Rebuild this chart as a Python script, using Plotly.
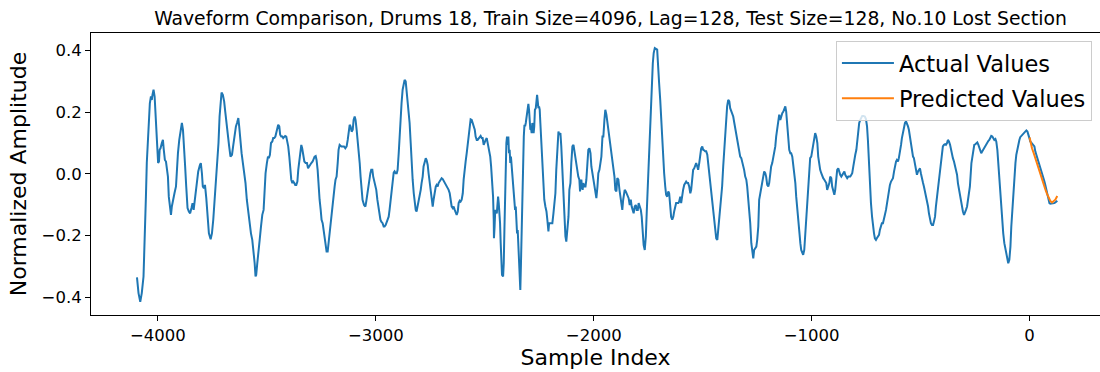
import plotly.graph_objects as go

actual_x = [
    -4096, -4089, -4081, -4074, -4066, -4061, -4055, -4051, -4046, -4043, -4037, -4032, -4028, -4025, -4020,
    -4015, -4012, -4008, -4003, -3999, -3995, -3992, -3988, -3982, -3977, -3973, -3968, -3963, -3959, -3954,
    -3950, -3945, -3940, -3936, -3930, -3924, -3917, -3913, -3908, -3902, -3896, -3890, -3885, -3879, -3875,
    -3870, -3864, -3858, -3852, -3846, -3841, -3836, -3832, -3827, -3821, -3815, -3807, -3803, -3798, -3794,
    -3789, -3784, -3778, -3772, -3766, -3758, -3752, -3746, -3740, -3734, -3728, -3722, -3717, -3712, -3708,
    -3702, -3696, -3691, -3686, -3682, -3677, -3673, -3667, -3660, -3654, -3648,
    -3642, -3637, -3631, -3627, -3622, -3616, -3610, -3604, -3598, -3592, -3585, -3579, -3573, -3567, -3561,
    -3556, -3552, -3549, -3544, -3538, -3533, -3527, -3521, -3515, -3510, -3506, -3500, -3495, -3491, -3486,
    -3481, -3475, -3471, -3466, -3461, -3457, -3452, -3448, -3443, -3439, -3434, -3429, -3425, -3420, -3416,
    -3411, -3406, -3402, -3397, -3393, -3388, -3383, -3379, -3374, -3370, -3365, -3360, -3356, -3351, -3347,
    -3342, -3338, -3333, -3328, -3322, -3316, -3311, -3307, -3301, -3296, -3290, -3286, -3281, -3276, -3272,
    -3267, -3263, -3258, -3253, -3249, -3244, -3240, -3235, -3230, -3226, -3221, -3217, -3212, -3207, -3203,
    -3198, -3194, -3189, -3185, -3180, -3175, -3171, -3166,
    -3158, -3152, -3146, -3140, -3134, -3129, -3125, -3120, -3116, -3111, -3106, -3102, -3097, -3093, -3088,
    -3083, -3079, -3074, -3070, -3065, -3061, -3054, -3048, -3044, -3039, -3035, -3030, -3025, -3021, -3016,
    -3012, -3007, -3002, -2998, -2993, -2989, -2984, -2979, -2975, -2969, -2964, -2960, -2955, -2950, -2946,
    -2941, -2937, -2932, -2927, -2923, -2918, -2914, -2909, -2904, -2900, -2895, -2891, -2886, -2882, -2877,
    -2872, -2868, -2863, -2859, -2854, -2849, -2845, -2840, -2836, -2831, -2826, -2822, -2817, -2813, -2808,
    -2803, -2799, -2794, -2790, -2785, -2781, -2776, -2771, -2767, -2762, -2758, -2753, -2748, -2744, -2739,
    -2735, -2730, -2725, -2721, -2716, -2712, -2707, -2703, -2698, -2693, -2689, -2684,
    -2681, -2673, -2666, -2661, -2657, -2652, -2647, -2643, -2638, -2634, -2629, -2624, -2620, -2615, -2611,
    -2606, -2601, -2597, -2592, -2588, -2583, -2579, -2574, -2569, -2565, -2560, -2556, -2551, -2546, -2542,
    -2537, -2533, -2528, -2523, -2519, -2514, -2510, -2505, -2501, -2496, -2491, -2487, -2482, -2478, -2475,
    -2471, -2468, -2465, -2462, -2459, -2458, -2455, -2452, -2449, -2445, -2442, -2439, -2436, -2433, -2430,
    -2427, -2424, -2421, -2416, -2413, -2410, -2407, -2404, -2401, -2398, -2395, -2392, -2389, -2386, -2383,
    -2380, -2377, -2374, -2370, -2367, -2364, -2361, -2358, -2355, -2352, -2349, -2346, -2343, -2340, -2337,
    -2334, -2331, -2328, -2325, -2321, -2318, -2315, -2312, -2309, -2306, -2303, -2300, -2297, -2294, -2291,
    -2288, -2285, -2282, -2279, -2276, -2273, -2270, -2266, -2263, -2260, -2257, -2254, -2251, -2248, -2245,
    -2240, -2236, -2231, -2227, -2222, -2217, -2213, -2208, -2205, -2202,
    -2190, -2185, -2181, -2176, -2172, -2167, -2162, -2158, -2153, -2149, -2144, -2139, -2135, -2130, -2126,
    -2121, -2116, -2112, -2107, -2103, -2098, -2093, -2089, -2084, -2080, -2075, -2071, -2066, -2063, -2060,
    -2057, -2054, -2051, -2048, -2043, -2038, -2034, -2029, -2025, -2020, -2015, -2011, -2006, -2002, -1997,
    -1993, -1988, -1983, -1979, -1974, -1970, -1965, -1960, -1956, -1951, -1947, -1942, -1937, -1933, -1928,
    -1924, -1919, -1914, -1910, -1905, -1901, -1896, -1892, -1887, -1882, -1878, -1873, -1869, -1865, -1862,
    -1858, -1853, -1849, -1844, -1840, -1835, -1830, -1826, -1821, -1817, -1812, -1807, -1803, -1798, -1794,
    -1789, -1784, -1780, -1775, -1771, -1766, -1761, -1757, -1752, -1748, -1743, -1739, -1734, -1729, -1725,
    -1720,
    -1709, -1704, -1700, -1695, -1691, -1686, -1681, -1677, -1672, -1668, -1663, -1658, -1654, -1649, -1645,
    -1640, -1635, -1631, -1626, -1622, -1617, -1612, -1608, -1603, -1599, -1594, -1590, -1585, -1580, -1576,
    -1571, -1567, -1562, -1557, -1553, -1548, -1544, -1539, -1534, -1530, -1525, -1521, -1516, -1511, -1507,
    -1502, -1498, -1493, -1489, -1484, -1479, -1475, -1470, -1466, -1461, -1456, -1452, -1447, -1443, -1438,
    -1433, -1429, -1424, -1420, -1415, -1411, -1406, -1401, -1397, -1392, -1388, -1383, -1378, -1374, -1369,
    -1365, -1360, -1355, -1351, -1346, -1342, -1337, -1333, -1328, -1323, -1319, -1314, -1310, -1305, -1300,
    -1296, -1291, -1287, -1282, -1277, -1273, -1268, -1264, -1259, -1254, -1250, -1245, -1241, -1236,
    -1231, -1227, -1222, -1218, -1213, -1209, -1204, -1199, -1195, -1190, -1186, -1181, -1176, -1172, -1167,
    -1163, -1158, -1153, -1149, -1144, -1140, -1135, -1130, -1126, -1121, -1117, -1112, -1108, -1103, -1098,
    -1094, -1089, -1085, -1080, -1075, -1071, -1066, -1062, -1057, -1052, -1048, -1043, -1039, -1034, -1030,
    -1025, -1020, -1016, -1011, -1007, -1002, -997, -993, -988, -984, -979, -974, -970, -965, -961,
    -956, -951, -947, -942, -938, -933, -929, -924, -919, -915, -910, -906, -901, -896, -892,
    -887, -883, -878, -873, -869, -864, -860, -855, -850, -846, -841, -837, -832, -828, -823,
    -818, -814, -809, -805, -800, -795, -791, -786, -782, -777, -772, -768, -763, -756, -751,
    -746, -742, -737, -733, -728, -723, -719, -714, -710, -705, -701, -696, -691, -687, -682,
    -678, -673, -668, -664, -659, -655, -650, -645, -641, -636, -632, -627, -622, -618, -613,
    -609, -604, -600, -595, -590, -586, -581, -577, -572, -567, -563, -558, -554, -549, -544,
    -540, -535, -531, -526, -522, -517, -512, -508, -503, -499, -494, -489, -485, -480, -476,
    -471, -466, -462, -457, -453, -448, -443, -439, -434, -430, -425, -421, -416, -411, -407,
    -402, -398, -393, -388, -384, -379, -375, -370, -365, -361, -356, -352, -347, -342, -338,
    -333, -329, -324, -320, -315, -310, -306, -301, -297, -292, -287, -283, -278, -274,
    -267, -263, -258, -254, -249, -245, -240, -235, -231, -226, -222, -217, -212, -208, -203,
    -199, -194, -189, -185, -180, -176, -171, -166, -162, -157, -153, -148, -144, -139, -134,
    -130, -125, -121, -116, -111, -107, -102, -98, -93, -88, -84, -79, -75, -70, -65,
    -61, -56, -52, -47, -43, -38, -33, -29, -24, -20, -15, -10, -6, -1, 3,
    8, 12, 17, 22, 26, 31, 35, 40, 45, 49, 54, 58, 63, 68, 72,
    77, 81, 86, 91, 95, 100, 104, 109, 113, 118, 123, 127,
]

actual_y = [
    -0.336, -0.387, -0.415, -0.387, -0.333, -0.236, -0.074, 0.035, 0.110, 0.186, 0.229, 0.251, 0.240, 0.256, 0.273,
    0.251, 0.197, 0.143, 0.089, 0.035, 0.040, 0.078, 0.083, 0.100, 0.110, 0.078, 0.045, 0.040, 0.024, -0.009,
    -0.074, -0.117, -0.133, -0.106, -0.079, -0.063, -0.041, 0.013, 0.067, 0.110, 0.148, 0.165, 0.143, 0.089, 0.024,
    -0.041, -0.111, -0.122, -0.128, -0.111, -0.095, -0.117, -0.095, -0.063, -0.019, 0.008, 0.029, 0.035, 0.002, -0.041,
    -0.047, -0.036, -0.079, -0.149, -0.193, -0.212, -0.193, -0.149, -0.084, -0.052, 0.013, 0.100, 0.186, 0.240, 0.264,
    0.256, 0.235, 0.202, 0.165, 0.154, 0.121, 0.089, 0.056, 0.062, 0.094, 0.132,
    0.154, 0.165, 0.181, 0.154, 0.100, 0.067, 0.035, 0.008, -0.030, -0.084, -0.128, -0.160, -0.193, -0.214, -0.247,
    -0.290, -0.333, -0.328, -0.290, -0.236, -0.214, -0.171, -0.133, -0.117, -0.052, 0.002, 0.035, 0.056, 0.051, 0.062,
    0.100, 0.105, 0.116, 0.116, 0.121, 0.132, 0.143, 0.159, 0.154, 0.127, 0.121, 0.121, 0.116, 0.121, 0.123,
    0.121, 0.105, 0.089, 0.056, 0.013, -0.019, -0.030, -0.025, -0.030, -0.036, -0.036, -0.025, 0.013, 0.051, 0.078,
    0.094, 0.083, 0.062, 0.040, 0.035, 0.035, 0.018, 0.024, 0.029, 0.035, 0.040, 0.051, 0.056, 0.058, 0.045,
    0.013, -0.052, -0.084, -0.117, -0.149, -0.160, -0.182, -0.203, -0.236, -0.252, -0.252, -0.225, -0.182, -0.149, -0.117,
    -0.084, -0.063, -0.041, -0.019, -0.009, 0.035, 0.078, 0.094,
    0.089, 0.089, 0.089, 0.083, 0.089, 0.110, 0.143, 0.159, 0.154, 0.137, 0.143, 0.175, 0.186, 0.175, 0.143,
    0.110, 0.078, 0.035, -0.009, -0.052, -0.084, -0.101, -0.106, -0.090, -0.063, -0.041, -0.019, 0.002, 0.013, 0.013,
    -0.009, -0.025, -0.030, -0.052, -0.084, -0.106, -0.139, -0.149, -0.155, -0.160, -0.171, -0.171, -0.166, -0.155, -0.149,
    -0.139, -0.117, -0.079, -0.052, -0.009, 0.004, 0.008, 0.002, 0.002, 0.013, 0.067, 0.132, 0.186, 0.229, 0.273,
    0.300, 0.305, 0.300, 0.273, 0.229, 0.197, 0.165, 0.100, 0.035, -0.019, -0.063, -0.095, -0.117, -0.122, -0.106,
    -0.084, -0.074, -0.052, -0.030, -0.009, 0.024, 0.040, 0.051, 0.045, 0.029, 0.002, -0.030, -0.063, -0.095, -0.106,
    -0.084, -0.052, -0.041, -0.036, -0.041, -0.030, -0.025, -0.019, -0.014, -0.017, -0.022, -0.030,
    -0.030, -0.041, -0.052, -0.063, -0.084, -0.106, -0.111, -0.106, -0.117, -0.128, -0.133, -0.122, -0.095, -0.087, -0.090,
    -0.084, -0.063, -0.019, 0.024, 0.040, 0.067, 0.094, 0.121, 0.148, 0.177, 0.175, 0.165, 0.159, 0.143, 0.121,
    0.110, 0.110, 0.116, 0.121, 0.123, 0.116, 0.116, 0.094, 0.105, 0.110, 0.116, 0.100, 0.094, 0.078, 0.056,
    0.024, -0.009, -0.063, -0.074, -0.149, -0.209, -0.171, -0.117, -0.122, -0.128, -0.084, -0.074, -0.095, -0.117, -0.160,
    -0.225, -0.290, -0.328, -0.333, -0.290, -0.182, -0.052, 0.035, 0.100, 0.121, 0.094, 0.121, 0.067, 0.078, 0.035,
    0.056, 0.024, -0.009, -0.041, -0.074, -0.084, -0.117, -0.106, -0.149, -0.193, -0.182, -0.225, -0.290, -0.355, -0.377,
    -0.290, -0.182, -0.063, 0.035, 0.121, 0.159, 0.154, 0.165, 0.186, 0.208, 0.224, 0.227, 0.208, 0.186, 0.143,
    0.148, 0.132, 0.165, 0.143, 0.132, 0.154, 0.208, 0.213, 0.229, 0.256, 0.235, 0.213, 0.219, 0.208, 0.165,
    0.089, 0.013, -0.052, -0.084, -0.106, -0.122, -0.149, -0.187, -0.160, -0.160,
    -0.160, -0.128, -0.095, -0.063, 0.013, 0.100, 0.137, 0.127, 0.132, 0.089, 0.013, -0.084, -0.149, -0.203, -0.220,
    -0.182, -0.139, -0.052, -0.030, 0.035, 0.089, 0.094, 0.073, 0.045, 0.029, 0.013, -0.009, -0.019, -0.057, -0.030,
    -0.019, -0.041, -0.052, -0.030, -0.041, -0.041, -0.019, 0.035, 0.078, 0.083, 0.067, 0.024, 0.002, -0.014, -0.041,
    -0.063, -0.079, -0.041, 0.002, 0.013, 0.035, 0.056, 0.121, 0.121, 0.175, 0.208, 0.192, 0.165, 0.143, 0.110,
    0.089, 0.056, 0.040, 0.024, -0.009, -0.052, -0.057, -0.014, -0.019, -0.052, -0.074, -0.095, -0.117, -0.084, -0.063,
    -0.052, -0.057, -0.063, -0.074, -0.079, -0.101, -0.084, -0.106, -0.117, -0.128, -0.106, -0.101, -0.117, -0.117, -0.095,
    -0.106, -0.117, -0.139, -0.203, -0.231, -0.247, -0.203, -0.128, -0.041, 0.056, 0.132, 0.219, 0.294, 0.359, 0.392,
    0.408,
    0.403, 0.359, 0.294, 0.240, 0.175, 0.110, 0.045, 0.002, -0.041, -0.068, -0.074, -0.057, -0.063, -0.106, -0.139,
    -0.149, -0.139, -0.122, -0.101, -0.095, -0.095, -0.095, -0.090, -0.074, -0.095, -0.063, -0.052, -0.036, -0.030, -0.025,
    -0.030, -0.030, -0.041, -0.063, -0.052, -0.009, 0.013, 0.018, 0.029, 0.035, 0.024, 0.013, 0.035, 0.062, 0.083,
    0.089, 0.078, 0.076, 0.073, 0.073, 0.062, 0.035, 0.002, -0.041, -0.063, -0.095, -0.139, -0.160, -0.182, -0.209,
    -0.214, -0.182, -0.149, -0.117, -0.084, -0.041, 0.024, 0.089, 0.143, 0.186, 0.219, 0.240, 0.235, 0.213, 0.202,
    0.197, 0.186, 0.165, 0.148, 0.132, 0.110, 0.094, 0.067, 0.056, 0.051, 0.040, 0.029, 0.013, -0.009, -0.019,
    -0.041, -0.079, -0.101, -0.160, -0.225, -0.258, -0.274, -0.247, -0.241, -0.236, -0.214, -0.171, -0.084, -0.063,
    -0.052, -0.036, -0.009, 0.008, 0.002, -0.009, -0.036, -0.041, -0.030, 0.002, 0.024, 0.035, 0.056, 0.067, 0.089,
    0.121, 0.154, 0.181, 0.192, 0.175, 0.186, 0.197, 0.202, 0.208, 0.219, 0.202, 0.165, 0.121, 0.078, 0.067,
    0.067, 0.056, 0.035, 0.002, -0.030, -0.074, -0.117, -0.160, -0.193, -0.225, -0.247, -0.258, -0.263, -0.247, -0.203,
    -0.149, -0.084, -0.019, 0.035, 0.051, 0.056, 0.078, 0.100, 0.121, 0.132, 0.121, 0.100, 0.056, 0.024, 0.013,
    0.002, -0.009, -0.014, -0.019, -0.025, -0.030, -0.052, -0.041, -0.030, -0.009, -0.014, -0.041, -0.052, -0.068, -0.052,
    -0.014, 0.013, 0.018, 0.002, -0.003, -0.009, -0.003, 0.002, 0.008, -0.003, -0.009, -0.014, -0.009, -0.009, -0.009,
    -0.003, 0.002, 0.024, 0.045, 0.062, 0.078, 0.110, 0.143, 0.165, 0.175, 0.184, 0.188, 0.188, 0.186, 0.178,
    0.154, 0.110, 0.035, -0.041, -0.095, -0.139, -0.171, -0.193, -0.209, -0.214, -0.209, -0.203, -0.198, -0.182, -0.171,
    -0.160, -0.160, -0.149, -0.133, -0.117, -0.095, -0.074, -0.052, -0.036, -0.025, -0.019, -0.014, 0.008, 0.029, 0.040,
    0.045, 0.040, 0.051, 0.067, 0.094, 0.116, 0.132, 0.154, 0.165, 0.170, 0.165, 0.154, 0.143, 0.121, 0.089,
    0.067, 0.056, 0.051, 0.035, 0.013, -0.003, 0.008, 0.013, 0.018, 0.002, -0.019, -0.030, -0.041, -0.057, -0.074,
    -0.090, -0.106, -0.128, -0.149, -0.160, -0.166, -0.166, -0.155, -0.139, -0.106, -0.074, -0.041, -0.009, 0.013, 0.045,
    0.067, 0.089, 0.094, 0.096, 0.094, 0.100, 0.110, 0.105, 0.094, 0.078, 0.062, 0.051, 0.040, 0.024, 0.013,
    -0.003, -0.030, -0.052, -0.074, -0.095, -0.111, -0.122, -0.133, -0.128, -0.117, -0.106, -0.084, -0.063, -0.041,
    0.035, 0.056, 0.078, 0.094, 0.096, 0.100, 0.102, 0.094, 0.083, 0.073, 0.067, 0.073, 0.080, 0.083, 0.089,
    0.094, 0.100, 0.107, 0.110, 0.119, 0.123, 0.121, 0.116, 0.110, 0.113, 0.105, 0.078, 0.035, -0.019, -0.074,
    -0.117, -0.160, -0.193, -0.225, -0.247, -0.263, -0.279, -0.290, -0.279, -0.236, -0.171, -0.106, -0.052, -0.009, 0.035,
    0.062, 0.083, 0.100, 0.110, 0.119, 0.123, 0.127, 0.132, 0.137, 0.140, 0.141, 0.137, 0.130, 0.116, 0.105,
    0.100, 0.097, 0.094, 0.089, 0.073, 0.062, 0.051, 0.040, 0.029, 0.024, 0.013, -0.003, -0.014, -0.025, -0.036,
    -0.052, -0.068, -0.084, -0.095, -0.097, -0.097, -0.095, -0.097, -0.095, -0.093, -0.090, -0.087,
]

pred_x = [0, 3, 11, 19, 26, 34, 42, 49, 57, 65, 72, 80, 88, 95, 103, 110, 118, 127]
pred_y = [0.118, 0.108, 0.083, 0.067, 0.051, 0.035, 0.013, -0.003, -0.019, -0.036, -0.050, -0.065,
          -0.079, -0.088, -0.093, -0.090, -0.084, -0.072]

x_tick_vals = [-4000, -3000, -2000, -1000, 0]
x_tick_text = ["\u22124000", "\u22123000", "\u22122000", "\u22121000", "0"]
y_tick_vals = [-0.4, -0.2, 0.0, 0.2, 0.4]
y_tick_text = ["\u22120.4", "\u22120.2", "0.0", "0.2", "0.4"]

FONT = "DejaVu Sans"

fig = go.Figure()
fig.add_trace(go.Scatter(x=actual_x, y=actual_y, mode="lines", name="Actual Values",
                         legendgroup="a", line=dict(color="#1f77b4", width=2)))
fig.add_trace(go.Scatter(x=pred_x, y=pred_y, mode="lines", name="Predicted Values",
                         legendgroup="b", line=dict(color="#ff7f0e", width=2)))

fig.update_layout(
    width=1100, height=372,
    margin=dict(l=91, r=0, t=33, b=57),
    paper_bgcolor="white", plot_bgcolor="white",
    font=dict(family=FONT, color="black"),
    title=dict(text="Waveform Comparison, Drums 18, Train Size=4096, Lag=128, Test Size=128, No.10 Lost Section",
               font=dict(family=FONT, size=18.8, color="black"),
               x=0.555, xanchor="center", y=1 - 18.5 / 372, yanchor="middle"),
    showlegend=True,
    legend=dict(x=0.992, xanchor="right", y=0.972, yanchor="top",
                bgcolor="rgba(255,255,255,0.8)", bordercolor="#cccccc", borderwidth=1,
                font=dict(family=FONT, size=22.5, color="black"), itemwidth=52,
                tracegroupgap=3),
    xaxis=dict(range=[-4307, 323], tickvals=x_tick_vals, ticktext=x_tick_text,
               showgrid=False, zeroline=False, showline=True, linecolor="black", linewidth=1,
               mirror=True, ticks="outside", ticklen=5, tickcolor="black",
               tickfont=dict(family=FONT, size=16.5),
               title=dict(text="Sample Index", font=dict(family=FONT, size=22), standoff=5)),
    yaxis=dict(range=[-0.458, 0.457], tickvals=y_tick_vals, ticktext=y_tick_text,
               showgrid=False, zeroline=False, showline=True, linecolor="black", linewidth=1,
               mirror=True, ticks="outside", ticklen=5, tickcolor="black",
               tickfont=dict(family=FONT, size=16.5),
               title=dict(text="Normalized Amplitude", font=dict(family=FONT, size=22), standoff=8)),
)

fig.write_html("out.html")
